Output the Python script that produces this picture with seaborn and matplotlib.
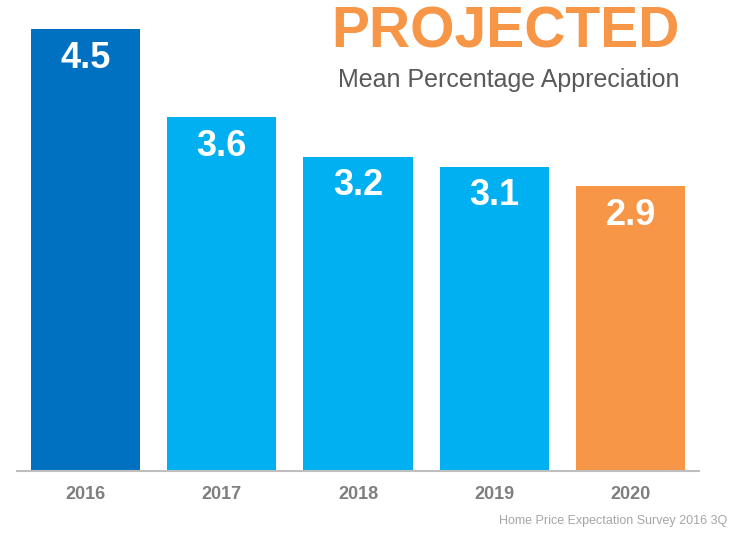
import matplotlib
matplotlib.use("Agg")
import matplotlib.pyplot as plt
import seaborn as sns
import pandas as pd

years = ["2016", "2017", "2018", "2019", "2020"]
values = [4.5, 3.6, 3.2, 3.1, 2.9]
colors = ["#0070C0", "#00B0F0", "#00B0F0", "#00B0F0", "#F79646"]

sns.set_style("white")
plt.rcParams["font.family"] = ["Liberation Sans", "DejaVu Sans"]

df = pd.DataFrame({"year": years, "value": values})

fig = plt.figure(figsize=(7.43, 5.35), dpi=100)
ax = fig.add_axes([17 / 743, 64 / 535, (699 - 17) / 743, (471 - 29) / 535])

sns.barplot(data=df, x="year", y="value", hue="year", palette=colors,
            width=0.8, legend=False, ax=ax, saturation=1, linewidth=0)

ax.set_xlim(-0.5, 4.5)
ax.set_ylim(0, 4.5)
ax.set_xlabel("")
ax.set_ylabel("")
ax.set_yticks([])
for s in ["top", "left", "right"]:
    ax.spines[s].set_visible(False)
ax.spines["bottom"].set_color("#BFBFBF")
ax.spines["bottom"].set_linewidth(1.5)
ax.tick_params(axis="x", length=0, pad=11)
for lbl in ax.get_xticklabels():
    lbl.set_fontsize(13)
    lbl.set_fontweight("bold")
    lbl.set_color("#7F7F7F")

for i, v in enumerate(values):
    ax.annotate(f"{v}", xy=(i, v), xytext=(0, -21), textcoords="offset points",
                ha="center", va="center", color="white", fontsize=26,
                fontweight="bold")

fig.text(680 / 743, 1 - 33 / 535, "PROJECTED", ha="right", va="center",
         color="#F79646", fontsize=41, fontweight="bold")
fig.text(680 / 743, 1 - 80 / 535, "Mean Percentage Appreciation", ha="right",
         va="center", color="#595959", fontsize=18)
fig.text(727 / 743, 1 - 521 / 535, "Home Price Expectation Survey 2016 3Q",
         ha="right", va="center", color="#A6A6A6", fontsize=9)

fig.savefig("out.png", dpi=100)
